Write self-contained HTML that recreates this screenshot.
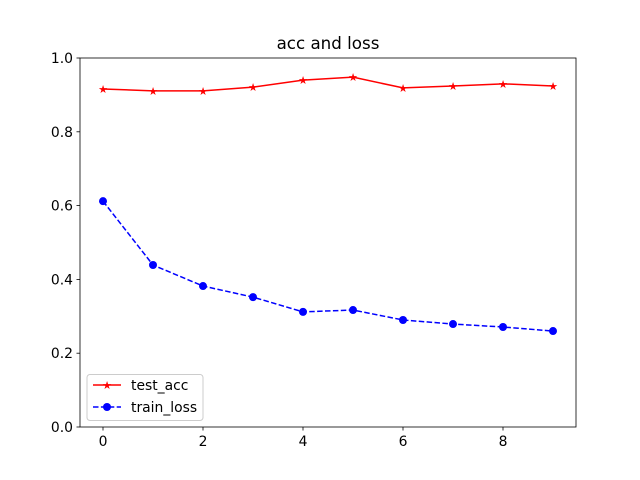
<!DOCTYPE html>
<html><head><meta charset="utf-8"><style>body{margin:0;background:#fff}svg{display:block;font-family:"DejaVu Sans","Liberation Sans",sans-serif}</style></head>
<body>
<svg id="chart" width="640" height="480">
<rect width="640" height="480" fill="#fff"/>
<text x="328" y="49" font-size="16.7" text-anchor="middle">acc and loss</text>
<g id="axes"></g>
<g id="series"></g>
<g id="legend">
<rect x="87" y="374.5" width="116" height="46" rx="3" fill="#fff" fill-opacity="0.8" stroke="#ccc"/>
<line x1="93" x2="121" y1="385" y2="385" stroke="red" stroke-width="1.5"/>
<text x="107" y="389" font-size="11" fill="red" text-anchor="middle">★</text>
<text x="131" y="390" font-size="13.9">test_acc</text>
<line x1="93" x2="121" y1="407" y2="407" stroke="blue" stroke-width="1.5" stroke-dasharray="5.5,2.4"/>
<circle cx="107" cy="407" r="4" fill="blue"/>
<text x="131" y="412" font-size="13.9">train_loss</text>
</g>
</svg>
<script>
const epochs=[0,1,2,3,4,5,6,7,8,9];
const testAcc=[0.916,0.911,0.911,0.921,0.940,0.948,0.919,0.924,0.930,0.924];
const trainLoss=[0.612,0.439,0.382,0.352,0.312,0.317,0.290,0.279,0.271,0.260];
const xTicks=[0,2,4,6,8];
const yTicks=[0,0.2,0.4,0.6,0.8,1.0];
const yTickLabels=["0.0","0.2","0.4","0.6","0.8","1.0"];
const L=80,R=576,T=58,B=427;
const xs=v=>103+v*50, ys=v=>B-v*(B-T);
const NS="http://www.w3.org/2000/svg";
function mk(tag,attrs,parent){const e=document.createElementNS(NS,tag);for(const k in attrs)e.setAttribute(k,attrs[k]);parent.appendChild(e);return e;}
const ax=document.getElementById('axes'),se=document.getElementById('series');
xTicks.forEach(t=>{const x=xs(t);
const l=mk('line',{x1:x,x2:x,y1:B,y2:B+3.5,stroke:'#000','stroke-width':0.8},ax);


const tx=mk('text',{x:x,y:B+19,'font-size':13.9,'text-anchor':'middle'},ax);tx.textContent=t;

});
yTicks.forEach((t,i)=>{const y=ys(t);
const l=mk('line',{x1:L-3.5,x2:L,y1:y,y2:y,stroke:'#000','stroke-width':0.8},ax);


const tx=mk('text',{x:L-7,y:y+5,'font-size':13.9,'text-anchor':'end'},ax);tx.textContent=yTickLabels[i];

});
const fr=mk('rect',{x:L,y:T,width:R-L,height:B-T,fill:'none',stroke:'#000','stroke-width':0.8},ax);


const p1=mk('polyline',{points:epochs.map((e,i)=>xs(e)+','+ys(testAcc[i])).join(' '),fill:'none',stroke:'red','stroke-width':1.5},se);


epochs.forEach((e,i)=>{const s=mk('text',{x:xs(e),y:ys(testAcc[i])+4,'font-size':11,fill:'red','text-anchor':'middle'},se);s.textContent='★';

});
const p2=mk('polyline',{points:epochs.map((e,i)=>xs(e)+','+ys(trainLoss[i])).join(' '),fill:'none',stroke:'blue','stroke-width':1.5,'stroke-dasharray':'5.5,2.4'},se);


epochs.forEach((e,i)=>{const c=mk('circle',{cx:xs(e),cy:ys(trainLoss[i]),r:4,fill:'blue'},se);

});
</script>
</body></html>
